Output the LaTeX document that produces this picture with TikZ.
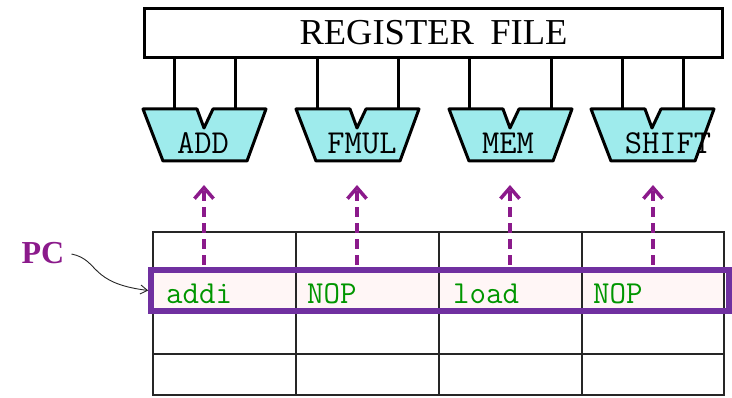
\documentclass[tikz,border=0pt]{standalone}
\usepackage{fontspec}
\setmainfont{Liberation Serif}
\usetikzlibrary{arrows.meta,calc}
\definecolor{alucyan}{RGB}{158,235,236}
\definecolor{arrpurple}{RGB}{139,26,139}
\definecolor{boxpurple}{RGB}{112,48,160}
\definecolor{instgreen}{RGB}{0,150,0}
\definecolor{rowpink}{RGB}{255,246,246}
\tikzset{
  alu/.style={draw=black, fill=alucyan, line width=3pt, line join=round},
  wire/.style={draw=black, line width=3pt},
  alulabel/.style={font=\fontsize{33.5}{34}\selectfont\ttfamily, inner sep=0pt},
  inst/.style={font=\fontsize{32}{32}\selectfont\ttfamily, text=instgreen, inner sep=0pt, anchor=base west},
  gridline/.style={draw=black!85, line width=1.3pt},
  dasharrow/.style={draw=arrpurple, line width=4pt, dash pattern=on 10pt off 6pt,
    -{Straight Barb[length=11pt,width=19pt,line width=3.5pt]}},
  pcarrow/.style={draw=black!85, line width=0.9pt, -{Straight Barb[length=7pt,width=9pt]}},
}
\newcommand\aluunit[6]{%
  \begin{scope}[shift={(#2,0)}]
    \draw[alu] (0,109) -- (54,109) -- (61,128) -- (70,109) -- (123,109) -- (104,161) -- (20,161) -- cycle;
    \coordinate (#1-a) at (#4,109);
    \coordinate (#1-b) at (#5,109);
    \node[alulabel] (#1) at (61+#6,143) {#3};
  \end{scope}
  \draw[wire] (#1-a |- rf.south) -- (#1-a);
  \draw[wire] (#1-b |- rf.south) -- (#1-b);
}
\begin{document}
\begin{tikzpicture}[x=1pt,y=-1pt]
\useasboundingbox (0,0) rectangle (732,398);
% register file
\node[draw=black, line width=3.3pt, minimum width=578pt, minimum height=49pt, inner sep=0pt,
      font=\fontsize{36.5}{37}\selectfont] (rf) at (433.5,33) {\raisebox{-2pt}{REGISTER\hspace{0.45em}FILE}};
% ALUs
\aluunit{add}{143}{ADD}{31}{92}{-1}
\aluunit{fmul}{296}{FMUL}{21}{102}{5}
\aluunit{mem}{449}{MEM}{20}{102}{-2}
\aluunit{shift}{591}{SHIFT}{31}{92}{16}
% table
\fill[rowpink] (153,272) rectangle (724,313);
\draw[gridline] (153,232) rectangle (724,395);
\foreach \yy in {272,313,354} \draw[gridline] (153,\yy) -- (724,\yy);
\foreach \xx in {296,439,582} \draw[gridline] (\xx,232) -- (\xx,395);
\node[draw=boxpurple, line width=5.5pt, minimum width=578pt, minimum height=41pt, inner sep=0pt] (pcrow) at (440,290.5) {};
\node[inst] (i1) at (166,304) {addi};
\node[inst] (i2) at (307,304) {NOP};
\node[inst] (i3) at (453,304) {load};
\node[inst] (i4) at (593,304) {NOP};
% dashed arrows
\foreach \n/\xx in {1/204,2/357,3/510,4/653}{
  \coordinate (s\n) at (\xx,265);
  \coordinate (t\n) at (\xx,185);
  \draw[dasharrow] (s\n) -- (t\n);
}
% PC
\node[font=\fontsize{32}{32}\selectfont\bfseries, text=arrpurple, inner sep=0pt] (pc) at (43,253) {PC};
\draw[pcarrow] ([xshift=7pt,yshift=-1pt]pc.east) .. controls (100,260) and (88,283) .. (pcrow.west);
\end{tikzpicture}
\end{document}
